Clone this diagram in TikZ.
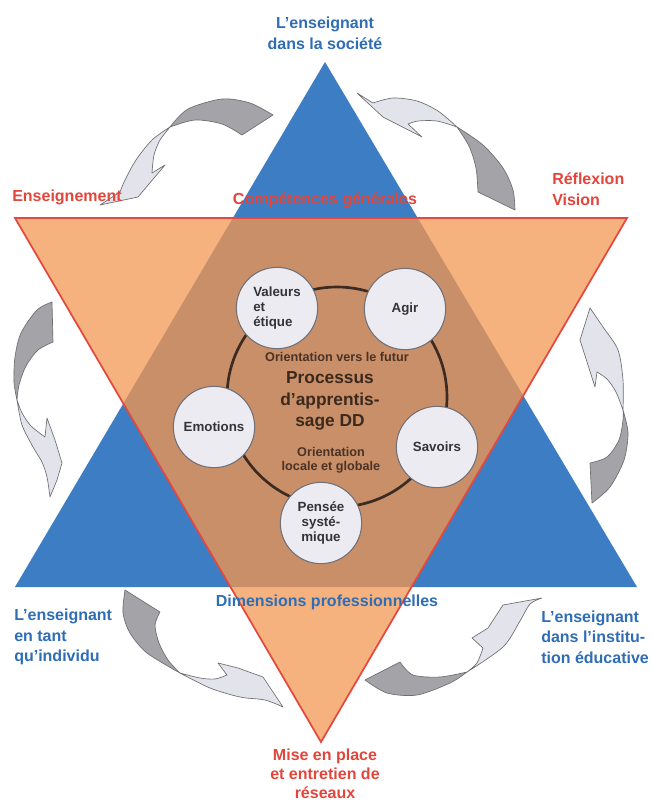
\documentclass[tikz,border=0pt]{standalone}
\usepackage{fontspec}
\setmainfont{Liberation Sans}
\definecolor{tblue}{HTML}{3C7DC4}
\definecolor{torange}{HTML}{F5B27E}
\definecolor{tover}{HTML}{C98F68}
\definecolor{tred}{HTML}{E5483D}
\definecolor{lblue}{HTML}{2F6DB5}
\definecolor{lred}{HTML}{E2463B}
\definecolor{ringcol}{HTML}{3B2B22}
\definecolor{circfill}{HTML}{EBEBF1}
\definecolor{bubline}{HTML}{707078}
\definecolor{bubtext}{HTML}{333338}
\definecolor{arrdark}{HTML}{A4A4A8}
\definecolor{arrlight}{HTML}{E3E3EC}
\definecolor{arrline}{HTML}{6E6E72}
\definecolor{innertext}{HTML}{4A3326}
\begin{document}
\begin{tikzpicture}[x=0.75pt,y=-0.75pt,
  lab/.style={inner sep=0pt, font=\fontsize{12}{15.5}\selectfont\bfseries},
  bluelab/.style={lab, text=lblue},
  redlab/.style={lab, text=lred},
  bub/.style={circle, draw=bubline, line width=0.8pt, fill=circfill, minimum size=61pt, inner sep=0pt, font=\fontsize{10}{11.3}\selectfont\bfseries, text=bubtext},
  ringnode/.style={circle, draw=ringcol, line width=2pt, minimum size=165pt, inner sep=0pt},
  midtext/.style={inner sep=0pt, text=innertext, align=center, font=\fontsize{9.5}{10.5}\selectfont\bfseries},
  bigtext/.style={inner sep=0pt, text=innertext!80!black, align=center, font=\fontsize{13}{16}\selectfont\bfseries},
  darkpart/.style={fill=arrdark, draw=arrline, line width=0.5pt, line join=round},
  lightpart/.style={fill=arrlight, draw=arrline, line width=0.5pt, line join=round}
]
\useasboundingbox (0,0) rectangle (651,801);
\fill[white] (0,0) rectangle (651,801);

% triangles
\coordinate (bA) at (325,62);
\coordinate (bL) at (15,587);
\coordinate (bR) at (637,587);
\coordinate (oL) at (15,218);
\coordinate (oR) at (627,218);
\coordinate (oB) at (321,742);

\fill[tblue] (bA) -- (bL) -- (bR) -- cycle;
\fill[torange] (oL) -- (oR) -- (oB) -- cycle;
\begin{scope}
  \clip (bA) -- (bL) -- (bR) -- cycle;
  \fill[tover] (oL) -- (oR) -- (oB) -- cycle;
\end{scope}
\draw[tred, line width=1.3pt, line join=miter] (oL) -- (oR) -- (oB) -- cycle;

% curved arrows
% top-left
\path[darkpart] (170,127) -- plot[smooth] coordinates {(170,127) (188,109) (222,99) (250,103) (273,115)} -- (242,135) -- plot[smooth] coordinates {(242,135) (222,124) (195,120) (170,127)} -- cycle;
\path[lightpart] (170,127) -- plot[smooth] coordinates {(170,127) (152,140) (136,160) (125,180) (120,192)} -- (100,205) -- (138,197) -- (165,165) -- (152,173) -- plot[smooth] coordinates {(152,173) (154,155) (160,140) (170,127)} -- cycle;
% top-right
\path[lightpart] (357,93) -- (373,103) -- plot[smooth] coordinates {(373,103) (393,98) (417,101) (438,111) (457,127)} -- plot[smooth] coordinates {(457,127) (437,121) (418,121) (408,124)} -- (422,137) -- (383,117) -- cycle;
\path[darkpart] (457,127) -- plot[smooth] coordinates {(457,127) (483,145) (503,168) (513,190) (515,210)} -- (478,192) -- plot[smooth] coordinates {(478,192) (476,168) (469,146) (457,127)} -- cycle;
% left
\path[darkpart] (52,302) -- (53,342) -- plot[smooth] coordinates {(53,342) (38,350) (26,366) (19,385) (17,400)} -- plot[smooth] coordinates {(17,400) (14,382) (15,357) (21,333) (37,310) (52,302)} -- cycle;
\path[lightpart] (17,400) -- plot[smooth] coordinates {(17,400) (22,413) (31,426) (45,437)} -- (47,418) -- (55,440) -- (62,463) -- (57,480) -- (50,497) -- plot[smooth] coordinates {(50,497) (47,477) (42,462) (33,447) (22,425) (17,400)} -- cycle;
% right
\path[lightpart] (590,308) -- (580,340) -- (595,387) -- (597,372) -- plot[smooth] coordinates {(597,372) (607,379) (616,392) (623,410)} -- plot[smooth] coordinates {(623,410) (623,380) (618,350) (603,327) (590,308)} -- cycle;
\path[darkpart] (623,410) -- plot[smooth] coordinates {(623,410) (628,433) (624,460) (610,487) (592,503)} -- (590,463) -- plot[smooth] coordinates {(590,463) (607,457) (619,440) (623,420) (623,410)} -- cycle;
% bottom-left
\path[darkpart] (125,590) -- (160,612) -- plot[smooth] coordinates {(160,612) (155,625) (159,643) (168,660) (180,673)} -- plot[smooth] coordinates {(180,673) (147,653) (130,633) (123,613) (125,590)} -- cycle;
\path[lightpart] (180,673) -- plot[smooth] coordinates {(180,673) (200,678) (215,679) (227,675)} -- (218,663) -- (238,668) -- (263,677) -- (283,707) -- plot[smooth] coordinates {(283,707) (265,700) (240,697) (210,688) (180,673)} -- cycle;
% bottom-right
\path[darkpart] (400,662) -- (365,680) -- plot[smooth] coordinates {(365,680) (387,693) (417,695) (450,683) (467,672)} -- plot[smooth] coordinates {(467,672) (440,677) (413,675) (400,662)} -- cycle;
\path[lightpart] (467,672) -- plot[smooth] coordinates {(467,672) (477,663) (483,648)} -- (472,638) -- (488,628) -- (503,605) -- (542,598) -- plot[smooth] coordinates {(542,598) (530,604) (520,621) (503,647) (467,672)} -- cycle;

% central ring and bubbles
\node[ringnode] (ring) at (337,397) {};
\node[bub, align=left] (valeurs) at (277,308) {Valeurs\\et\\étique};
\node[bub] (agir) at (405,309) {Agir};
\node[bub] (emotions) at (214,427) {Emotions};
\node[bub] (savoirs) at (437,447) {Savoirs};
\node[bub, align=center] (pensee) at (321,523) {Pensée\\systé-\\mique};

\node[midtext] (futur) at (337,357) {Orientation vers le futur};
\node[bigtext] (processus) at (330,401) {Processus\\d’apprentis-\\sage DD};
\node[midtext] (locale) at (331,460) {Orientation\\locale et globale};

% outer labels
\node[bluelab, align=center] (societe) at (325,33) {L’enseignant\\dans la société};
\node[redlab, anchor=west] (enseignement) at (12,197) {Enseignement};
\node[redlab, align=center] (competences) at (325,200) {Compétences générales};
\node[redlab, align=left, anchor=west] (reflexion) at (552,189) {Réflexion\\Vision};
\node[bluelab, align=center] (dimensions) at (327,602) {Dimensions professionnelles};
\node[bluelab, align=left, anchor=west] (individu) at (14,637) {L’enseignant\\en tant\\qu’individu};
\node[bluelab, align=left, anchor=west] (institution) at (541,637) {L’enseignant\\dans l’institu-\\tion éducative};
\node[redlab, align=center, font=\fontsize{12}{14.3}\selectfont\bfseries] (reseaux) at (325,774) {Mise en place\\et entretien de\\réseaux};
\end{tikzpicture}
\end{document}
